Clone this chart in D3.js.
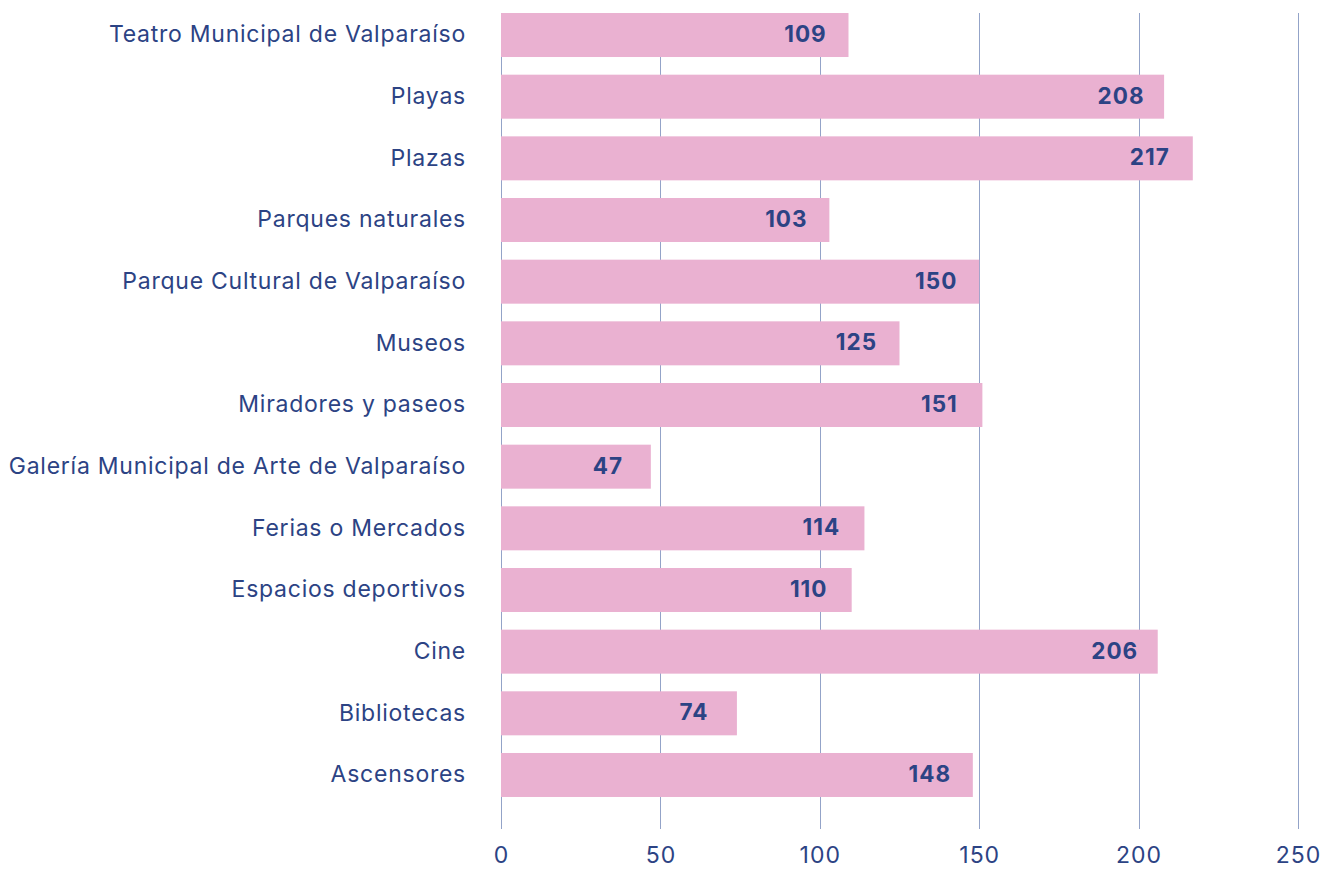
<!DOCTYPE html>
<html>
<head>
<meta charset="utf-8">
<script src="https://cdn.jsdelivr.net/npm/d3@7"></script>
<style>
  html, body { margin: 0; padding: 0; background: #ffffff; }
  svg { display: block; }
</style>
</head>
<body>
<svg id="chart" width="1333" height="869"></svg>
<script>
// Espacios culturales y recreativos: número de menciones
const categories = [
  "Teatro Municipal de Valparaíso",
  "Playas",
  "Plazas",
  "Parques naturales",
  "Parque Cultural de Valparaíso",
  "Museos",
  "Miradores y paseos",
  "Galería Municipal de Arte de Valparaíso",
  "Ferias o Mercados",
  "Espacios deportivos",
  "Cine",
  "Bibliotecas",
  "Ascensores"
];
const values = [109, 208, 217, 103, 150, 125, 151, 47, 114, 110, 206, 74, 148];
const xTicks = [0, 50, 100, 150, 200, 250];

const textColor = "#2c4384";
const barColor = "#eab1d1";
const gridColor = "#93a3c8";
const labelFont = "Inter, 'Open Sans', sans-serif";

const svg = d3.select("#chart");
const plotLeft = 501, plotRight = 1298;
const gridTop = 13, gridBottom = 829;

const x = d3.scaleLinear().domain([0, 250]).range([plotLeft, plotRight]);
const y = d3.scaleBand()
  .domain(categories)
  .range([4.2, 805.8])
  .paddingInner(0.2865)
  .paddingOuter(0.143);

// vertical gridlines
svg.append("g")
  .selectAll("line")
  .data(xTicks)
  .join("line")
  .attr("x1", d => Math.round(x(d)) + 0.5)
  .attr("x2", d => Math.round(x(d)) + 0.5)
  .attr("y1", gridTop)
  .attr("y2", gridBottom)
  .attr("stroke", gridColor)
  .attr("stroke-width", 1);

// bars
svg.append("g")
  .selectAll("rect")
  .data(values)
  .join("rect")
  .attr("x", x(0))
  .attr("y", (d, i) => y(categories[i]))
  .attr("width", d => x(d) - x(0))
  .attr("height", y.bandwidth())
  .attr("fill", barColor);

// value labels inside the bars
svg.append("g")
  .selectAll("text")
  .data(values)
  .join("text")
  .attr("x", d => x(d) - 43)
  .attr("y", (d, i) => y(categories[i]) + y.bandwidth() / 2 + 1)
  .attr("text-anchor", "middle")
  .attr("dominant-baseline", "middle")
  .attr("fill", textColor)
  .attr("font-family", labelFont)
  .attr("font-weight", 700)
  .attr("font-size", 22.5)
  .attr("letter-spacing", "1px")
  .text(d => d);

// category axis labels
svg.append("g")
  .selectAll("text")
  .data(categories)
  .join("text")
  .attr("x", 466)
  .attr("y", d => y(d) + y.bandwidth() / 2 + 1)
  .attr("text-anchor", "end")
  .attr("dominant-baseline", "middle")
  .attr("fill", textColor)
  .attr("font-family", labelFont)
  .attr("font-size", 23)
  .attr("letter-spacing", "0.75px")
  .text(d => d);

// value axis tick labels
const xAxis = d3.axisBottom(x).tickValues(xTicks).tickSize(0).tickPadding(0);
const axisG = svg.append("g")
  .attr("transform", `translate(0, ${gridBottom + 18})`)
  .call(xAxis);
axisG.select(".domain").remove();
axisG.selectAll("text")
  .attr("fill", textColor)
  .attr("font-family", labelFont)
  .attr("font-size", 23)
  .attr("letter-spacing", "1px")
  .attr("dy", "0.71em");
</script>
</body>
</html>
